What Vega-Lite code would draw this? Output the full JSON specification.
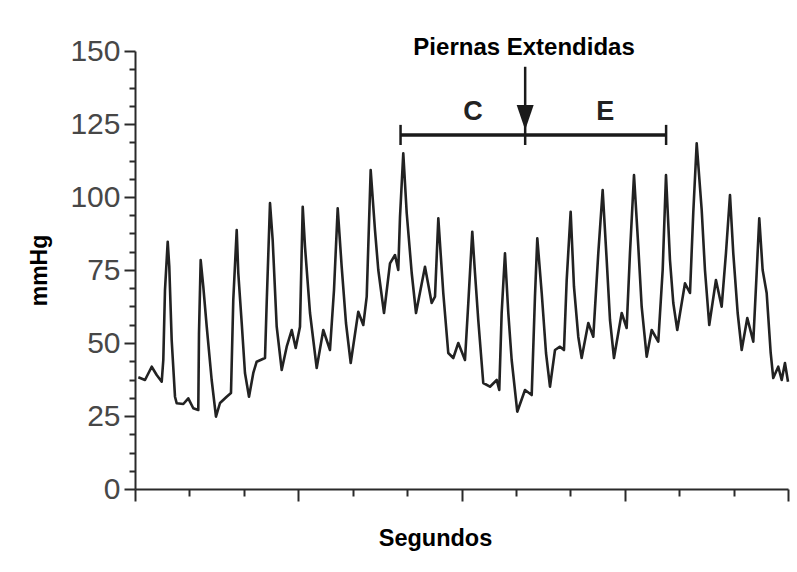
{
  "$schema": "https://vega.github.io/schema/vega-lite/v6.json",
  "autosize": "none",
  "width": 653,
  "height": 438,
  "padding": {"left": 135, "top": 51, "right": 9, "bottom": 83},
  "background": "#ffffff",
  "config": {
    "view": {"stroke": null},
    "font": "Liberation Sans"
  },
  "resolve": {"axis": {"y": "independent"}},
  "datasets": {
    "wave": [
      {"t": 0.061, "p": 38.25}, {"t": 0.184, "p": 37.33}, {"t": 0.307, "p": 41.88}, {"t": 0.399, "p": 39.04},
      {"t": 0.491, "p": 36.75}, {"t": 0.520, "p": 44.18}, {"t": 0.551, "p": 68.15}, {"t": 0.601, "p": 84.69},
      {"t": 0.630, "p": 76.13}, {"t": 0.674, "p": 51.03}, {"t": 0.735, "p": 31.61}, {"t": 0.766, "p": 29.35},
      {"t": 0.888, "p": 29.11}, {"t": 0.979, "p": 31.06}, {"t": 1.071, "p": 27.64}, {"t": 1.163, "p": 27.05},
      {"t": 1.176, "p": 53.42}, {"t": 1.207, "p": 78.42}, {"t": 1.255, "p": 69.28}, {"t": 1.318, "p": 55.58},
      {"t": 1.409, "p": 37.33}, {"t": 1.488, "p": 24.76}, {"t": 1.562, "p": 29.45}, {"t": 1.685, "p": 31.61},
      {"t": 1.764, "p": 32.88}, {"t": 1.806, "p": 64.73}, {"t": 1.869, "p": 88.70}, {"t": 1.898, "p": 73.97},
      {"t": 1.961, "p": 56.85}, {"t": 2.021, "p": 39.73}, {"t": 2.095, "p": 31.61}, {"t": 2.174, "p": 39.73},
      {"t": 2.236, "p": 43.60}, {"t": 2.389, "p": 44.86}, {"t": 2.420, "p": 63.70}, {"t": 2.481, "p": 97.95},
      {"t": 2.530, "p": 85.27}, {"t": 2.604, "p": 55.58}, {"t": 2.696, "p": 40.75}, {"t": 2.788, "p": 48.73},
      {"t": 2.880, "p": 54.45}, {"t": 2.953, "p": 48.29}, {"t": 3.032, "p": 55.58}, {"t": 3.082, "p": 96.68},
      {"t": 3.124, "p": 82.98}, {"t": 3.216, "p": 60.27}, {"t": 3.339, "p": 41.44}, {"t": 3.460, "p": 54.45},
      {"t": 3.583, "p": 47.60}, {"t": 3.657, "p": 68.15}, {"t": 3.725, "p": 96.13}, {"t": 3.798, "p": 76.13},
      {"t": 3.877, "p": 56.85}, {"t": 3.964, "p": 43.15}, {"t": 4.103, "p": 60.72}, {"t": 4.195, "p": 56.16},
      {"t": 4.258, "p": 65.86}, {"t": 4.331, "p": 109.25}, {"t": 4.410, "p": 88.70}, {"t": 4.471, "p": 75.00},
      {"t": 4.576, "p": 60.27}, {"t": 4.686, "p": 77.29}, {"t": 4.778, "p": 80.14}, {"t": 4.838, "p": 75.00},
      {"t": 4.870, "p": 93.25}, {"t": 4.930, "p": 114.97}, {"t": 4.993, "p": 94.52}, {"t": 5.085, "p": 73.97},
      {"t": 5.164, "p": 60.27}, {"t": 5.329, "p": 76.13}, {"t": 5.452, "p": 63.70}, {"t": 5.513, "p": 65.86},
      {"t": 5.574, "p": 92.71}, {"t": 5.665, "p": 67.12}, {"t": 5.757, "p": 46.58}, {"t": 5.849, "p": 44.86},
      {"t": 5.941, "p": 50.00}, {"t": 6.064, "p": 44.18}, {"t": 6.125, "p": 63.70}, {"t": 6.198, "p": 88.12},
      {"t": 6.248, "p": 73.97}, {"t": 6.308, "p": 57.88}, {"t": 6.400, "p": 36.30}, {"t": 6.523, "p": 35.03},
      {"t": 6.647, "p": 37.33}, {"t": 6.694, "p": 33.90}, {"t": 6.738, "p": 60.27}, {"t": 6.799, "p": 80.72},
      {"t": 6.860, "p": 60.27}, {"t": 6.922, "p": 44.18}, {"t": 7.025, "p": 26.47}, {"t": 7.167, "p": 33.90},
      {"t": 7.290, "p": 32.19}, {"t": 7.350, "p": 65.86}, {"t": 7.393, "p": 85.86}, {"t": 7.474, "p": 67.12},
      {"t": 7.553, "p": 46.58}, {"t": 7.626, "p": 35.03}, {"t": 7.718, "p": 47.60}, {"t": 7.810, "p": 48.73},
      {"t": 7.883, "p": 47.60}, {"t": 7.933, "p": 71.58}, {"t": 8.006, "p": 94.97}, {"t": 8.067, "p": 69.28},
      {"t": 8.146, "p": 52.16}, {"t": 8.208, "p": 44.86}, {"t": 8.330, "p": 56.85}, {"t": 8.422, "p": 52.16},
      {"t": 8.514, "p": 80.82}, {"t": 8.594, "p": 102.40}, {"t": 8.668, "p": 78.42}, {"t": 8.729, "p": 57.88},
      {"t": 8.802, "p": 44.86}, {"t": 8.944, "p": 60.27}, {"t": 9.035, "p": 55.14}, {"t": 9.096, "p": 80.82},
      {"t": 9.170, "p": 107.53}, {"t": 9.249, "p": 82.98}, {"t": 9.311, "p": 62.43}, {"t": 9.403, "p": 45.31},
      {"t": 9.495, "p": 54.45}, {"t": 9.616, "p": 50.45}, {"t": 9.697, "p": 75.00}, {"t": 9.758, "p": 107.53},
      {"t": 9.831, "p": 78.42}, {"t": 9.892, "p": 63.70}, {"t": 9.965, "p": 54.45}, {"t": 10.107, "p": 70.45},
      {"t": 10.199, "p": 67.12}, {"t": 10.259, "p": 94.52}, {"t": 10.322, "p": 118.39}, {"t": 10.414, "p": 95.55},
      {"t": 10.474, "p": 75.00}, {"t": 10.553, "p": 56.16}, {"t": 10.676, "p": 71.58}, {"t": 10.781, "p": 62.43},
      {"t": 10.860, "p": 80.82}, {"t": 10.934, "p": 100.68}, {"t": 10.994, "p": 80.82}, {"t": 11.075, "p": 60.27},
      {"t": 11.149, "p": 47.60}, {"t": 11.252, "p": 58.56}, {"t": 11.362, "p": 50.45}, {"t": 11.424, "p": 73.97},
      {"t": 11.472, "p": 92.71}, {"t": 11.534, "p": 75.00}, {"t": 11.608, "p": 67.12}, {"t": 11.682, "p": 46.58},
      {"t": 11.729, "p": 38.01}, {"t": 11.821, "p": 41.88}, {"t": 11.884, "p": 37.33}, {"t": 11.944, "p": 43.15},
      {"t": 12.0, "p": 36.75}
    ],
    "bracket": [
      {"start": 4.88, "end": 7.17, "level": 121.2},
      {"start": 7.17, "end": 9.76, "level": 121.2}
    ],
    "caps": [
      {"at": 4.88, "lo": 117.8, "hi": 124.7},
      {"at": 7.17, "lo": 117.8, "hi": 124.7},
      {"at": 9.76, "lo": 117.8, "hi": 124.7}
    ],
    "arrow": [
      {"at": 7.17, "top": 144.6, "bottom": 129.5, "head": 127.2}
    ],
    "labels": [
      {"at": 7.15, "level": 148.6, "txt": "Piernas Extendidas", "kind": "title"},
      {"at": 6.21, "level": 126.4, "txt": "C", "kind": "seg"},
      {"at": 8.64, "level": 126.4, "txt": "E", "kind": "seg"}
    ]
  },
  "layer": [
    {
      "data": {"name": "wave"},
      "mark": {"type": "line", "color": "#222222", "strokeWidth": 2.6, "strokeJoin": "round", "clip": false},
      "encoding": {
        "x": {
          "field": "t", "type": "quantitative",
          "scale": {"domain": [0, 12], "nice": false, "zero": false},
          "axis": {
            "values": [0,1,2,3,4,5,6,7,8,9,10,11,12],
            "labels": false,
            "grid": false,
            "domainColor": "#2a2a2a", "domainWidth": 2,
            "tickColor": "#2a2a2a", "tickWidth": 2,
            "tickSize": {"condition": {"test": "datum.value % 3 === 0", "value": 12}, "value": 7},
            "title": "Segundos",
            "titleFont": "Liberation Sans",
            "titleFontSize": 23.5,
            "titleFontWeight": "bold",
            "titleColor": "#000000",
            "titleAlign": "center",
            "titleX": 300,
            "titlePadding": 24
          }
        },
        "y": {
          "field": "p", "type": "quantitative",
          "scale": {"domain": [0, 150], "nice": false},
          "axis": {
            "orient": "left",
            "values": [0, 25, 50, 75, 100, 125, 150],
            "grid": false,
            "domainColor": "#2a2a2a", "domainWidth": 2,
            "tickColor": "#2a2a2a", "tickWidth": 2,
            "tickSize": 11,
            "labelFont": "Liberation Sans",
            "labelFontSize": 30,
            "labelColor": "#474747",
            "labelPadding": 4,
            "title": "mmHg",
            "titleFont": "Liberation Sans",
            "titleFontSize": 23,
            "titleFontWeight": "bold",
            "titleColor": "#000000",
            "titlePadding": 18
          }
        }
      }
    },
    {
      "data": {"name": "wave"},
      "mark": {"type": "line", "opacity": 0, "clip": false},
      "encoding": {
        "x": {"field": "t", "type": "quantitative"},
        "y": {
          "field": "p", "type": "quantitative",
          "axis": {
            "orient": "left",
            "values": [6.25,12.5,18.75,31.25,37.5,43.75,56.25,62.5,68.75,81.25,87.5,93.75,106.25,112.5,118.75,131.25,137.5,143.75],
            "labels": false,
            "grid": false,
            "domain": false,
            "tickColor": "#2a2a2a", "tickWidth": 2,
            "tickSize": 6,
            "title": null
          }
        }
      }
    },
    {
      "data": {"name": "bracket"},
      "mark": {"type": "rule", "color": "#1a1a1a", "strokeWidth": 3.5, "clip": false},
      "encoding": {
        "x": {"field": "start", "type": "quantitative"},
        "x2": {"field": "end"},
        "y": {"field": "level", "type": "quantitative", "axis": null}
      }
    },
    {
      "data": {"name": "caps"},
      "mark": {"type": "rule", "color": "#1a1a1a", "strokeWidth": 2.5, "clip": false},
      "encoding": {
        "x": {"field": "at", "type": "quantitative"},
        "y": {"field": "lo", "type": "quantitative", "axis": null},
        "y2": {"field": "hi"}
      }
    },
    {
      "data": {"name": "arrow"},
      "mark": {"type": "rule", "color": "#1a1a1a", "strokeWidth": 2.5, "clip": false},
      "encoding": {
        "x": {"field": "at", "type": "quantitative"},
        "y": {"field": "top", "type": "quantitative", "axis": null},
        "y2": {"field": "bottom"}
      }
    },
    {
      "data": {"name": "arrow"},
      "mark": {"type": "point", "shape": "M-0.68,-1L0.68,-1L0,1Z", "size": 625, "filled": true, "color": "#1a1a1a", "opacity": 1, "clip": false},
      "encoding": {
        "x": {"field": "at", "type": "quantitative"},
        "y": {"field": "head", "type": "quantitative", "axis": null}
      }
    },
    {
      "data": {"name": "labels"},
      "transform": [{"filter": "datum.kind === 'title'"}],
      "mark": {"type": "text", "font": "Liberation Sans", "fontSize": 24, "fontWeight": "bold", "color": "#000000", "align": "center", "baseline": "alphabetic", "clip": false},
      "encoding": {
        "x": {"field": "at", "type": "quantitative"},
        "y": {"field": "level", "type": "quantitative", "axis": null},
        "text": {"field": "txt"}
      }
    },
    {
      "data": {"name": "labels"},
      "transform": [{"filter": "datum.kind === 'seg'"}],
      "mark": {"type": "text", "font": "Liberation Sans", "fontSize": 27, "fontWeight": "bold", "color": "#222222", "align": "center", "baseline": "alphabetic", "clip": false},
      "encoding": {
        "x": {"field": "at", "type": "quantitative"},
        "y": {"field": "level", "type": "quantitative", "axis": null},
        "text": {"field": "txt"}
      }
    }
  ]
}
